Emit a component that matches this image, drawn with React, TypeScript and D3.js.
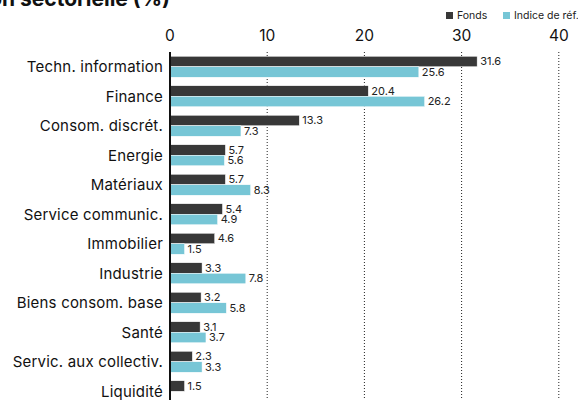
import React, { useEffect, useRef } from 'react';
import * as d3 from 'd3';

const categories = [
  'Techn. information',
  'Finance',
  'Consom. discrét.',
  'Energie',
  'Matériaux',
  'Service communic.',
  'Immobilier',
  'Industrie',
  'Biens consom. base',
  'Santé',
  'Servic. aux collectiv.',
  'Liquidité',
];
const fonds = [31.6, 20.4, 13.3, 5.7, 5.7, 5.4, 4.6, 3.3, 3.2, 3.1, 2.3, 1.5];
const indice: (number | null)[] = [25.6, 26.2, 7.3, 5.6, 8.3, 4.9, 1.5, 7.8, 5.8, 3.7, 3.3, null];
const xTicks = [0, 10, 20, 30, 40];
const seriesNames = ['Fonds', 'Indice de réf.'];
const colors = ['#383838', '#77c6d6'];

const W = 578;
const H = 400;
const FONT = 'Inter, "Liberation Sans", sans-serif';

export default function App() {
  const svgRef = useRef<SVGSVGElement>(null);

  useEffect(() => {
    if (!svgRef.current) return;
    const svg = d3.select(svgRef.current);
    svg.selectAll('*').remove();

    const x = d3.scaleLinear().domain([0, 40]).range([170, 558.8]);
    const y = d3.scaleBand<string>()
      .domain(categories)
      .range([52, 406])
      .paddingInner(0.288)
      .paddingOuter(0.144);
    const sub = d3.scaleBand<number>().domain([0, 1]).range([0, y.bandwidth()]);

    // title (cut off by the frame)
    svg.append('text')
      .attr('x', 170)
      .attr('y', 6)
      .attr('text-anchor', 'end')
      .attr('font-family', FONT)
      .attr('font-size', 21)
      .attr('font-weight', 700)
      .attr('fill', '#111')
      .text('Répartition sectorielle (%)');

    // legend
    const legendX = [446, 503];
    seriesNames.forEach((name, i) => {
      svg.append('rect')
        .attr('x', legendX[i])
        .attr('y', 12)
        .attr('width', 7)
        .attr('height', 7)
        .attr('fill', colors[i]);
      svg.append('text')
        .attr('x', legendX[i] + 11)
        .attr('y', 19)
        .attr('font-family', FONT)
        .attr('font-size', 10.5)
        .attr('fill', '#222')
        .text(name);
    });

    // grid lines
    svg.append('g')
      .selectAll('line')
      .data(xTicks.filter(t => t > 0))
      .join('line')
      .attr('x1', d => x(d))
      .attr('x2', d => x(d))
      .attr('y1', 52)
      .attr('y2', H)
      .attr('stroke', '#222')
      .attr('stroke-width', 1)
      .attr('stroke-dasharray', '1,2');

    // tick labels
    svg.append('g')
      .selectAll('text')
      .data(xTicks)
      .join('text')
      .attr('x', d => x(d))
      .attr('y', 41)
      .attr('text-anchor', 'middle')
      .attr('font-family', FONT)
      .attr('font-size', 15.5)
      .attr('fill', '#111')
      .text(d => d);

    // bars
    const groups = svg.append('g')
      .selectAll('g')
      .data(categories)
      .join('g')
      .attr('transform', d => `translate(0,${y(d)})`);

    [fonds, indice].forEach((vals, s) => {
      groups.each(function (cat, i) {
        const v = vals[i];
        if (v == null) return;
        const g = d3.select(this);
        g.append('rect')
          .attr('x', x(0))
          .attr('y', sub(s) || 0)
          .attr('width', x(v) - x(0))
          .attr('height', sub.bandwidth())
          .attr('fill', colors[s])
          .attr('stroke', '#fff')
          .attr('stroke-width', 0.5);
        g.append('text')
          .attr('x', x(v) + 3)
          .attr('y', (sub(s) || 0) + sub.bandwidth() / 2)
          .attr('dy', '0.35em')
          .attr('font-family', FONT)
          .attr('font-size', 11)
          .attr('fill', '#222')
          .text(v.toFixed(1));
      });
    });

    // category labels
    svg.append('g')
      .selectAll('text')
      .data(categories)
      .join('text')
      .attr('x', 163)
      .attr('y', d => (y(d) || 0) + y.bandwidth() / 2)
      .attr('dy', '0.35em')
      .attr('text-anchor', 'end')
      .attr('font-family', FONT)
      .attr('font-size', 15)
      .attr('letter-spacing', 0.2)
      .attr('fill', '#111')
      .text(d => d);

    // zero axis
    svg.append('line')
      .attr('x1', x(0))
      .attr('x2', x(0))
      .attr('y1', 52)
      .attr('y2', H)
      .attr('stroke', '#111')
      .attr('stroke-width', 2);
  }, []);

  return (
    <div style={{ position: 'absolute', left: 0, top: 0 }}>
      <svg ref={svgRef} width={W} height={H} style={{ display: 'block', background: '#fff' }} />
    </div>
  );
}
